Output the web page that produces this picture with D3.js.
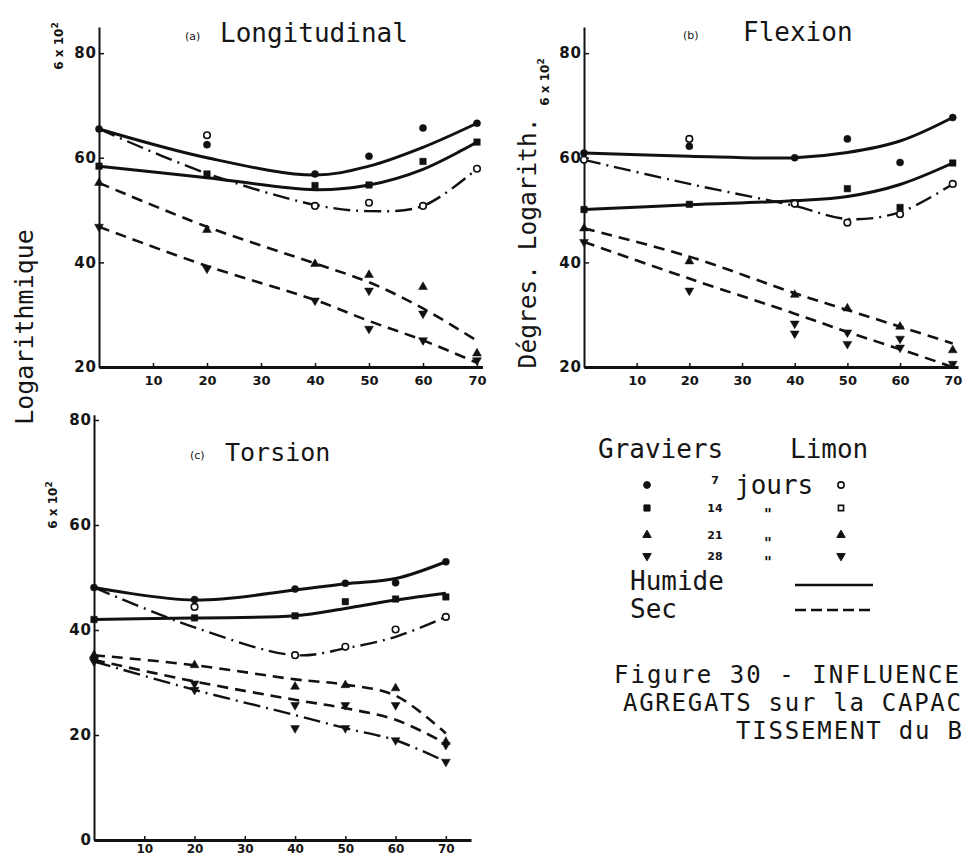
<!DOCTYPE html>
<html><head><meta charset="utf-8">
<script src="https://cdn.jsdelivr.net/npm/d3@7/dist/d3.min.js"></script>
<style>
body{margin:0;background:#fff}
svg{display:block}
text{fill:#151515}
</style>
</head><body>
<svg id="chart" width="965" height="857"></svg>
<script>
// ---------- data ----------
const days = [0, 20, 40, 50, 60, 70];
const xTickValues = [10, 20, 30, 40, 50, 60, 70];
const yTicksAB = [20, 40, 60, 80];
const yTicksC = [0, 20, 40, 60, 80];
const panelTitles = ["Longitudinal", "Flexion", "Torsion"];
const panelLetters = ["(a)", "(b)", "(c)"];

// (a) Longitudinal — fitted curves
const aCurveG7Hum  = [65.5, 60.0, 56.7, 58.4, 62.0, 66.6];
const aCurveG14Hum = [58.4, 56.2, 53.9, 54.8, 57.8, 63.0];
const aCurveL7Hum  = [65.5, 57.0, 51.0, 49.8, 50.8, 57.9];
const aCurveG21Sec = [55.2, 46.8, 39.8, 36.2, 31.2, 25.0];
const aCurveG28Sec = [46.8, 39.3, 32.8, 28.8, 25.1, 20.8];
// (a) measured points
const aPtsG7  = [65.5, 62.5, 56.9, 60.3, 65.7, 66.6];
const aPtsG14 = [58.4, 56.9, 54.7, 54.8, 59.3, 63.0];
const aPtsL7  = [null, 64.3, 50.8, 51.4, 50.8, 57.9];
const aPtsG21 = [55.2, 46.2, 39.7, 37.6, 35.3, 22.6];
const aPtsG28 = [46.8, 38.8, 32.7, 27.3, 25.1, 21.3];
const aPtsL28 = [null, null, null, 34.6, 30.2, null];

// (b) Flexion — fitted curves
const bCurveG7Hum  = [60.9, 60.3, 60.0, 61.0, 63.2, 67.7];
const bCurveG14Hum = [50.1, 51.0, 51.8, 52.6, 54.9, 59.0];
const bCurveL7Hum  = [59.6, 55.0, 50.8, 48.3, 49.6, 55.0];
const bCurveG21Sec = [46.5, 41.1, 34.1, 30.9, 27.7, 24.5];
const bCurveG28Sec = [43.9, 36.9, 30.2, 26.7, 23.4, 20.0];
// (b) measured points
const bPtsG7  = [60.9, 62.2, 60.0, 63.6, 59.1, 67.7];
const bPtsG14 = [50.1, 51.1, 51.4, 54.1, 50.5, 59.0];
const bPtsL7  = [59.6, 63.6, 51.2, 47.6, 49.2, 55.0];
const bPtsG21 = [46.5, 40.2, 33.8, 31.2, 27.7, 23.2];
const bPtsG28 = [43.9, 34.6, 26.4, 24.4, 23.7, 20.6];
const bPtsL28 = [null, null, 28.3, 26.6, 25.4, null];

// (c) Torsion — fitted curves
const cCurveG7Hum  = [48.1, 45.7, 47.6, 48.8, 49.8, 53.0];
const cCurveG14Hum = [42.0, 42.3, 42.7, 44.1, 45.7, 47.0];
const cCurveL7Hum  = [48.1, 40.5, 35.2, 36.5, 38.7, 42.5];
const cCurveG21Sec = [35.2, 33.3, 30.6, 29.6, 27.5, 20.3];
const cCurveG28Sec = [34.3, 30.2, 26.7, 25.1, 22.9, 18.4];
const cCurveL28Sec = [34.0, 28.6, 23.8, 21.3, 19.0, 14.9];
// (c) measured points
const cPtsG7  = [48.1, 45.8, 47.8, 48.9, 49.0, 53.0];
const cPtsG14 = [42.0, 42.3, 42.7, 45.4, 45.9, 46.3];
const cPtsL7  = [null, 44.4, 35.2, 36.8, 40.1, 42.5];
const cPtsG21 = [35.2, 33.3, 29.2, 29.5, 28.9, 18.7];
const cPtsG28 = [34.3, 29.8, 25.7, 25.7, 25.7, 18.1];
const cPtsL28 = [34.0, 28.6, 21.3, 21.3, 19.0, 14.9];

// legend
const legendHeads = ["Graviers", "Limon"];
const legendAges = ["7", "14", "21", "28"];
const legendDitto = ["", "\"", "\"", "\""];
const legendLines = ["Humide", "Sec"];
const captionLines = ["Figure 30 - INFLUENCE", "AGREGATS sur la CAPAC", "TISSEMENT du B"];

// ---------- drawing ----------
const svg = d3.select("#chart");
const MONO = "'DejaVu Sans Mono', monospace";
const SANS = "'DejaVu Sans', sans-serif";

const lineStyles = {
  solid:   {w: 3,   dash: null},
  dashed:  {w: 2.6, dash: "11,7"},
  dashdot: {w: 2.4, dash: "17,6,2,6"}
};
const sym = {
  dot:    {t: d3.symbolCircle,   s: 40,  fill: "#111", rot: 0},
  square: {t: d3.symbolSquare,   s: 42,  fill: "#111", rot: 0},
  open:   {t: d3.symbolCircle,   s: 34,  fill: "#fff", rot: 0},
  up:     {t: d3.symbolTriangle, s: 34,  fill: "#111", rot: 0},
  down:   {t: d3.symbolTriangle, s: 34,  fill: "#111", rot: 180}
};

const panels = [
  { xr: [99, 482.4],  xd: [0, 71], yr: [367, 27],     yd: [20, 85], yTicks: yTicksAB, xPad: 9, xFont: 13,
    title: {x: 220, y: 42, lx: 185, size: 26}, unit: {x: 63, y: 46},
    curves: [[aCurveG7Hum,"solid"],[aCurveG14Hum,"solid"],[aCurveL7Hum,"dashdot"],[aCurveG21Sec,"dashed"],[aCurveG28Sec,"dashed"]],
    points: [[aPtsG7,"dot"],[aPtsG14,"square"],[aPtsL7,"open"],[aPtsG21,"up"],[aPtsG28,"down"],[aPtsL28,"down"]] },
  { xr: [584, 958],   xd: [0, 71], yr: [367, 27],     yd: [20, 85], yTicks: yTicksAB, xPad: 9, xFont: 13,
    title: {x: 743, y: 41, lx: 683, size: 26}, unit: {x: 549, y: 82},
    curves: [[bCurveG7Hum,"solid"],[bCurveG14Hum,"solid"],[bCurveL7Hum,"dashdot"],[bCurveG21Sec,"dashed"],[bCurveG28Sec,"dashed"]],
    points: [[bPtsG7,"dot"],[bPtsG14,"square"],[bPtsL7,"open"],[bPtsG21,"up"],[bPtsG28,"down"],[bPtsL28,"down"]] },
  { xr: [94, 471],    xd: [0, 75], yr: [840, 414.75], yd: [0, 81],  yTicks: yTicksC, xPad: 4, xFont: 12,
    title: {x: 225, y: 461, lx: 190, size: 25}, unit: {x: 57, y: 505},
    curves: [[cCurveG7Hum,"solid"],[cCurveG14Hum,"solid"],[cCurveL7Hum,"dashdot"],[cCurveG21Sec,"dashed"],[cCurveG28Sec,"dashed"],[cCurveL28Sec,"dashdot"]],
    points: [[cPtsG7,"dot"],[cPtsG14,"square"],[cPtsL7,"open"],[cPtsG21,"up"],[cPtsG28,"down"],[cPtsL28,"down"]] }
];

panels.forEach((p, i) => {
  const x = d3.scaleLinear().domain(p.xd).range(p.xr);
  const y = d3.scaleLinear().domain(p.yd).range(p.yr);
  const g = svg.append("g");

  // axes
  const gx = g.append("g").attr("transform", `translate(0,${y(p.yd[0])})`)
    .call(d3.axisBottom(x).tickValues(xTickValues).tickSize(-4).tickSizeOuter(0).tickPadding(p.xPad));
  gx.select(".domain").attr("stroke", "#111").attr("stroke-width", 3);
  gx.selectAll(".tick line").attr("stroke", "#111").attr("stroke-width", 1.5);
  gx.selectAll(".tick text").attr("font-family", SANS).attr("font-weight", "bold")
    .attr("font-size", p.xFont).attr("fill", "#151515");

  const gy = g.append("g").attr("transform", `translate(${x(0)},0)`)
    .call(d3.axisLeft(y).tickValues(p.yTicks).tickSize(-5).tickSizeOuter(0).tickPadding(2));
  gy.select(".domain").attr("stroke", "#111").attr("stroke-width", 2);
  gy.selectAll(".tick line").attr("stroke", "#111").attr("stroke-width", 1.5);
  gy.selectAll(".tick text").attr("font-family", SANS).attr("font-weight", "bold")
    .attr("font-size", 15).attr("letter-spacing", 1).attr("fill", "#151515");

  // fitted curves
  const line = d3.line().x(d => x(d[0])).y(d => y(d[1])).curve(d3.curveCatmullRom.alpha(0.5));
  p.curves.forEach(([vals, st]) => {
    const s = lineStyles[st];
    g.append("path").datum(days.map((d, k) => [d, vals[k]]))
      .attr("d", line).attr("fill", "none").attr("stroke", "#111")
      .attr("stroke-width", s.w).attr("stroke-dasharray", s.dash);
  });

  // measured points
  p.points.forEach(([vals, m]) => {
    const sm = sym[m];
    g.selectAll(null).data(days.map((d, k) => [d, vals[k]]).filter(d => d[1] != null))
      .enter().append("path")
      .attr("d", d3.symbol().type(sm.t).size(sm.s))
      .attr("transform", d => `translate(${x(d[0])},${y(d[1])}) rotate(${sm.rot})`)
      .attr("fill", sm.fill).attr("stroke", "#111").attr("stroke-width", m === "open" ? 1.6 : 0.5);
  });

  // titles
  g.append("text").attr("x", p.title.lx).attr("y", p.title.y - 2)
    .attr("font-family", SANS).attr("font-size", 11).text(panelLetters[i]);
  g.append("text").attr("x", p.title.x).attr("y", p.title.y)
    .attr("font-family", MONO).attr("font-size", p.title.size).text(panelTitles[i]);

  // unit label
  const u = g.append("text").attr("transform", `translate(${p.unit.x},${p.unit.y}) rotate(-90)`)
    .attr("text-anchor", "middle").attr("font-family", SANS).attr("font-weight", "bold")
    .attr("font-size", 12);
  u.append("tspan").text("6 x 10");
  u.append("tspan").attr("font-size", 9).attr("dy", -5).text("2");
});

// rotated axis titles
svg.append("text").attr("transform", "translate(33,327) rotate(-90)")
  .attr("text-anchor", "middle").attr("font-family", MONO).attr("font-size", 25)
  .text("Logarithmique");
svg.append("text").attr("transform", "translate(536,243) rotate(-90)")
  .attr("text-anchor", "middle").attr("font-family", MONO).attr("font-size", 24.5)
  .text("Dégres. Logarith.");

// legend
const L = svg.append("g");
L.append("text").attr("x", 598).attr("y", 458).attr("font-family", MONO).attr("font-size", 26).text(legendHeads[0]);
L.append("text").attr("x", 790).attr("y", 458).attr("font-family", MONO).attr("font-size", 26).text(legendHeads[1]);
L.append("text").attr("x", 735).attr("y", 494).attr("font-family", MONO).attr("font-size", 26).text("jours");
const rowY = [485, 508, 535, 556];
const leftSym = ["dot", "square", "up", "down"];
const rightSym = ["open", "open", "up", "down"];
rowY.forEach((ry, k) => {
  const s1 = sym[leftSym[k]];
  L.append("path").attr("d", d3.symbol().type(s1.t).size(s1.s * 0.9))
    .attr("transform", `translate(647,${ry}) rotate(${s1.rot})`).attr("fill", s1.fill).attr("stroke", "#111");
  const s2 = k === 1 ? {t: d3.symbolSquare, s: 30, fill: "#fff", rot: 0} : sym[rightSym[k]];
  L.append("path").attr("d", d3.symbol().type(s2.t).size(s2.s * 0.9))
    .attr("transform", `translate(841,${ry}) rotate(${s2.rot})`).attr("fill", s2.fill)
    .attr("stroke", "#111").attr("stroke-width", k < 2 ? 1.6 : 1);
  L.append("text").attr("x", 715).attr("y", ry + (k === 0 ? -1 : 4)).attr("text-anchor", "middle")
    .attr("font-family", SANS).attr("font-weight", "bold").attr("font-size", 11).text(legendAges[k]);
  if (legendDitto[k]) L.append("text").attr("x", 768).attr("y", ry + (k === 2 ? 14 : 12)).attr("text-anchor", "middle")
    .attr("font-family", SANS).attr("font-weight", "bold").attr("font-size", 15).text(legendDitto[k]);
});
L.append("text").attr("x", 630).attr("y", 590).attr("font-family", MONO).attr("font-size", 26).text(legendLines[0]);
L.append("text").attr("x", 630).attr("y", 618).attr("font-family", MONO).attr("font-size", 26).text(legendLines[1]);
L.append("line").attr("x1", 795).attr("x2", 873).attr("y1", 585).attr("y2", 585)
  .attr("stroke", "#111").attr("stroke-width", 2.6);
L.append("line").attr("x1", 795).attr("x2", 873).attr("y1", 610).attr("y2", 610)
  .attr("stroke", "#111").attr("stroke-width", 2.6).attr("stroke-dasharray", "11,5");

// caption
const capX = [614, 623, 736], capY = [683, 711, 739], capW = [345, 338, 226];
captionLines.forEach((t, k) => {
  svg.append("text").attr("x", capX[k]).attr("y", capY[k]).attr("font-family", MONO)
    .attr("font-size", 24).attr("textLength", capW[k]).attr("lengthAdjust", "spacing").text(t);
});
</script>
</body></html>
